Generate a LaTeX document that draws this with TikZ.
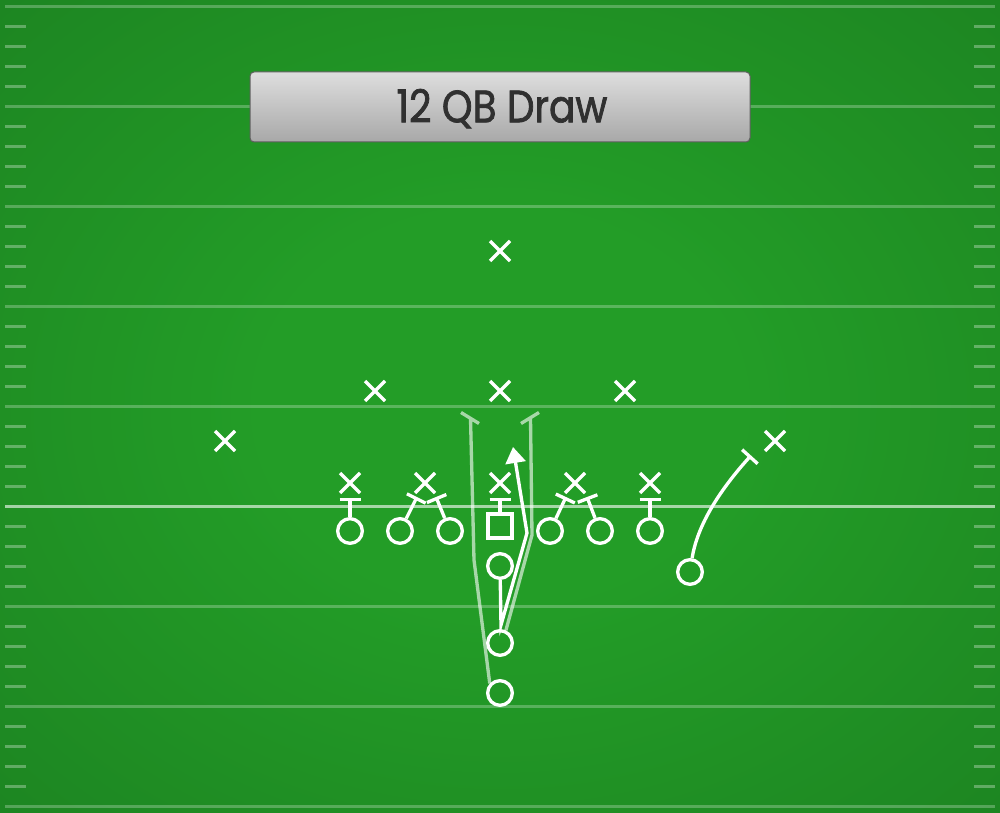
\documentclass[tikz,border=0pt]{standalone}
\usepackage{fontspec}
\newfontfamily\titlefont[FakeStretch=0.86,FakeBold=1.6]{Poppins}
\usetikzlibrary{arrows.meta,shapes.misc,calc}
\definecolor{fieldA}{RGB}{35,157,39}
\definecolor{fieldB}{RGB}{20,98,26}
\definecolor{boxTop}{RGB}{222,222,222}
\definecolor{boxBot}{RGB}{168,168,168}
\definecolor{boxLine}{RGB}{95,95,95}
\definecolor{titleText}{RGB}{48,48,48}
\pgfdeclareradialshading{field}{\pgfpoint{0bp}{0bp}}{color(0bp)=(fieldA); color(12bp)=(fieldA); color(71bp)=(fieldB)}
\tikzset{
  yard/.style={white, opacity=0.25, line width=2.25pt},
  los/.style={white, opacity=0.6, line width=2.25pt},
  hashm/.style={white, opacity=0.3, line width=2.25pt},
  titlebox/.style={rectangle, rounded corners=3pt, draw=boxLine, line width=0.75pt,
    top color=boxTop, bottom color=boxBot, minimum width=375pt, minimum height=52.5pt, inner sep=0pt},
  titletxt/.style={text=titleText, font=\titlefont\fontsize{34}{34}\selectfont, inner sep=0pt},
  off/.style={circle, draw=white, line width=2.5pt, minimum size=18.5pt, inner sep=0pt},
  ctr/.style={rectangle, draw=white, line width=2.5pt, minimum size=17.8pt, inner sep=0pt},
  defx/.style={cross out, draw=white, line width=2.5pt, minimum size=12.5pt, inner sep=0pt},
  blk/.style={draw=white, line width=2.5pt, -{Bar[width=15.75pt]}},
  route/.style={draw=white, line width=2.5pt},
  dimroute/.style={draw=white, opacity=0.6, line width=2.5pt},
}
\begin{document}
\begin{tikzpicture}[x=0.75pt,y=-0.75pt]
% field
\shade[shading=field] (0,0) rectangle (1000,813);
\useasboundingbox (0,0) rectangle (1000,813);
\foreach \yy in {6.5,106.5,206.5,306.5,406.5,606.5,706.5,806.5}
  \draw[yard] (5,\yy) -- (995,\yy);
\draw[los] (5,506.5) -- (995,506.5);
\foreach \k in {0,...,7}
  \foreach \j in {0,...,3}{
    \pgfmathsetmacro{\hy}{26.5+100*\k+20*\j}
    \draw[hashm] (5,\hy) -- (26,\hy);
    \draw[hashm] (974,\hy) -- (995,\hy);
  }
% title
\node[titlebox] (title) at (500,107) {};
\node[titletxt, anchor=base] (titletext) at (502,122.3) {12 QB Draw};
% defense
\node[defx] (s)   at (500,251) {};
\node[defx] (lbl) at (375,391) {};
\node[defx] (lbm) at (500,391) {};
\node[defx] (lbr) at (625,391) {};
\node[defx] (cbl) at (225,441) {};
\node[defx] (cbr) at (775,441) {};
\node[defx] (d1)  at (350,483) {};
\node[defx] (d2)  at (425,483) {};
\node[defx] (d3)  at (500,483) {};
\node[defx] (d4)  at (575,483) {};
\node[defx] (d5)  at (650,483) {};
% offense
\node[off] (o1) at (350,531) {};
\node[off] (o2) at (400,531) {};
\node[off] (o3) at (450,531) {};
\node[ctr] (c)  at (500,526) {};
\node[off] (o5) at (550,531) {};
\node[off] (o6) at (600,531) {};
\node[off] (o7) at (650,531) {};
\node[off] (qb) at (500,566) {};
\node[off] (fb) at (500,643) {};
\node[off] (hb) at (500,693) {};
\node[off] (wr) at (690,572) {};
% block points
\coordinate (b1) at (350,498);
\coordinate (b2) at (417,497);
\coordinate (b3) at (436,497);
\coordinate (bc) at (500,498);
\coordinate (b5) at (566,497);
\coordinate (b6) at (587,497);
\coordinate (b7) at (650,498);
\draw[blk] (o1) -- (b1);
\draw[blk] (o2) -- (b2);
\draw[blk] (o3) -- (b3);
\draw[blk] (c) -- (bc);
\draw[blk] (o5) -- (b5);
\draw[blk] (o6) -- (b6);
\draw[blk] (o7) -- (b7);
% HB route
\coordinate (h1) at (474,560);
\coordinate (hbe) at (470.5,418);
\coordinate (hbl) at (461,412.5);
\coordinate (hbr) at (479,423.5);
\draw[dimroute] (hb.137) -- (h1) -- (hbe) (hbl) -- (hbr);
% FB route
\coordinate (f1) at (532,535);
\coordinate (fbe) at (530.5,418);
\coordinate (fbl) at (521,423.5);
\coordinate (fbr) at (539,412.5);
\draw[dimroute] (fb.65) -- (f1) -- (fbe) (fbl) -- (fbr);
% QB draw
\coordinate (qv) at (501,625);
\coordinate (qk) at (527,533);
\coordinate (qt) at (513,447);
\draw[route, -{Triangle[length=12pt,width=15pt]}] (qb) -- (qv) -- (qk) -- (qt);
% WR route
\coordinate (wre) at (751,455.5);
\draw[blk] (wr) .. controls (698,520) and (727,482) .. (wre);
\end{tikzpicture}
\end{document}
